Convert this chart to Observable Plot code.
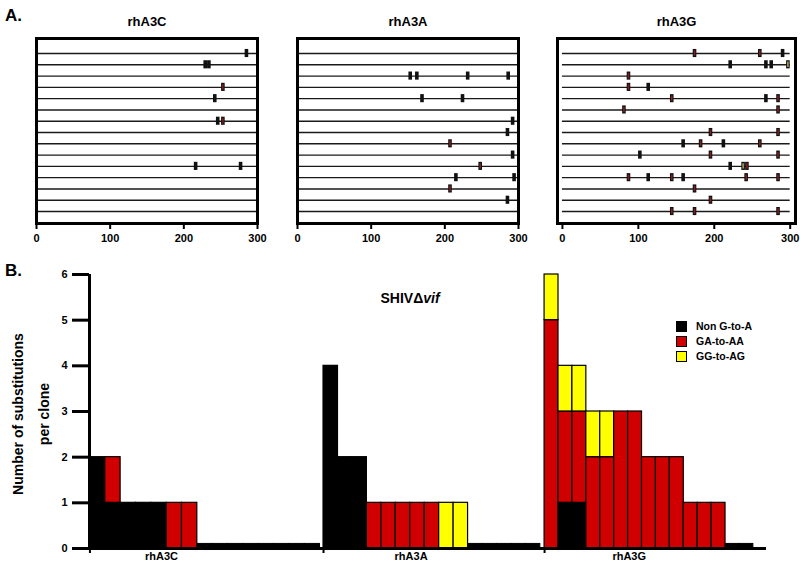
<!DOCTYPE html>
<html><head><meta charset="utf-8">
<script src="https://cdn.jsdelivr.net/npm/d3@7"></script>
<script src="https://cdn.jsdelivr.net/npm/@observablehq/plot@0.6"></script>
<style>
body{margin:0;background:#fff;font-family:"Liberation Sans",Arial,sans-serif;}
#root{position:relative;width:800px;height:567px;overflow:hidden;background:#fff;}
.abs{position:absolute;white-space:nowrap;color:#000;font-weight:bold;}
.abs svg{overflow:visible;}
</style></head><body><div id="root"></div>
<script>
// ---------- Panel A data ----------
const clonesA = d3.range(1, 16);          // 15 sequenced clones per enzyme
const seqRange = [0, 300];                // sequenced region (nt)
const axisTicksA = [0, 100, 200, 300];
const mutTypes = ["Non G-to-A", "GA-to-AA", "GG-to-AG"];
// [clone, position, type index]
const mutA3C = [[1,285,0],[2,229,0],[2,234,0],[4,253,1],[5,242,0],[7,246,0],[7,253,1],[11,216,0],[11,277,0]];
const mutA3A = [[3,153,0],[3,162,0],[3,231,0],[3,286,0],[5,169,0],[5,224,0],[7,292,0],[8,285,0],[9,207,1],
                [10,292,0],[11,248,1],[12,215,0],[12,294,0],[13,207,1],[14,285,0]];
const mutA3G = [[1,174,1],[1,260,1],[1,290,0],[2,221,0],[2,268,0],[2,275,0],[2,297,2],[3,87,1],[4,87,1],[4,113,0],
                [5,144,1],[5,268,0],[5,284,1],[6,81,1],[6,284,1],[8,195,1],[8,284,1],
                [9,159,0],[9,182,1],[9,212,0],[9,260,1],[10,102,0],[10,195,1],[10,284,1],
                [11,221,0],[11,238,2],[11,243,1],[12,87,1],[12,113,0],[12,144,1],[12,159,0],[12,242,1],[12,284,1],
                [13,174,1],[14,195,1],[15,144,1],[15,174,1],[15,284,1]];

// ---------- Panel B data (substitutions per clone) ----------
const groupsB = ["rhA3C", "rhA3A", "rhA3G"];
const yTicksB = [0, 1, 2, 3, 4, 5, 6];
const rhA3C_non = [2,1,1,1,1,0,0,0,0,0,0,0,0,0,0];
const rhA3C_ga  = [0,1,0,0,0,1,1,0,0,0,0,0,0,0,0];
const rhA3C_gg  = [0,0,0,0,0,0,0,0,0,0,0,0,0,0,0];
const rhA3A_non = [4,2,2,0,0,0,0,0,0,0,0,0,0,0,0];
const rhA3A_ga  = [0,0,0,1,1,1,1,1,0,0,0,0,0,0,0];
const rhA3A_gg  = [0,0,0,0,0,0,0,0,1,1,0,0,0,0,0];
const rhA3G_non = [0,1,1,0,0,0,0,0,0,0,0,0,0,0,0];
const rhA3G_ga  = [5,2,2,2,2,3,3,2,2,2,1,1,1,0,0];
const rhA3G_gg  = [1,1,1,1,1,0,0,0,0,0,0,0,0,0,0];

// ---------- styling / layout ----------
const FONT = "'Liberation Sans', Arial, sans-serif";
const colorsA = ["#111111", "#7e1f1f", "#a89f55"];
const colorsB = ["#000000", "#d00000", "#ffff00"];
const root = document.getElementById("root");
function place(el, left, top) {
  const d = document.createElement("div");
  d.className = "abs"; d.style.left = left + "px"; d.style.top = top + "px";
  d.appendChild(el); root.appendChild(d); return d;
}
function label(html, left, top, size, extra) {
  const d = document.createElement("div");
  d.className = "abs"; d.style.left = left + "px"; d.style.top = top + "px";
  d.style.fontSize = size + "px"; d.innerHTML = html;
  if (extra) Object.assign(d.style, extra);
  root.appendChild(d); return d;
}

// ---------- Panel A ----------
function panelA(title, muts, cfg) {
  const coloured = muts.filter(d => d[2] > 0);
  return Plot.plot({
    width: cfg.w, height: 255,
    marginLeft: cfg.ml, marginRight: cfg.mr, marginTop: 38, marginBottom: 32,
    style: {fontFamily: FONT, background: "transparent", color: "#000"},
    x: {domain: cfg.xd, axis: null},
    y: {domain: [16.06, -0.33], axis: null},
    marks: [
      Plot.ruleY(clonesA, {y: d => d, x1: seqRange[0], x2: seqRange[1], stroke: "#1a1a1a", strokeWidth: 1.4}),
      Plot.ruleX(muts, {x: d => d[1], y1: d => d[0] - 0.36, y2: d => d[0] + 0.36, stroke: "#111", strokeWidth: 3.6}),
      Plot.ruleX(coloured, {x: d => d[1], y1: d => d[0] - 0.24, y2: d => d[0] + 0.24, stroke: d => colorsA[d[2]], strokeWidth: 1.6}),
      Plot.frame({stroke: "#000", strokeWidth: 3}),
      Plot.axisX({ticks: axisTicksA, tickSize: 6, tickPadding: 5, strokeWidth: 2, fontSize: 11, fontWeight: "bold", tickFormat: d => d, label: null}),
      Plot.text([title], {text: d => d, frameAnchor: "top", dy: -22, fontSize: 13, fontWeight: "bold"})
    ]
  });
}
place(panelA("rhA3C", mutA3C, {w: 268, ml: 36, mr: 11, xd: [0, 300]}), 0, 0);
place(panelA("rhA3A", mutA3A, {w: 262, ml: 27, mr: 14, xd: [0, 300]}), 270, 0);
place(panelA("rhA3G", mutA3G, {w: 265, ml: 22, mr: 5, xd: [-6.5, 307]}), 535, 0);
label("A.", 5, 6, 17);

// ---------- Panel B ----------
const groupSpan = {rhA3C: [0.03, 15.8], rhA3A: [16.04, 30.9], rhA3G: [31.19, 45.5]};
const labelAt = {rhA3C: 4.9, rhA3A: 6.0, rhA3G: 5.8};
const seriesB = {
  rhA3C: [rhA3C_non, rhA3C_ga, rhA3C_gg],
  rhA3A: [rhA3A_non, rhA3A_ga, rhA3A_gg],
  rhA3G: [rhA3G_non, rhA3G_ga, rhA3G_gg]
};
const barRows = [], zeroRows = [];
for (const g of groupsB) {
  const [s0, s1] = groupSpan[g];
  const n = seriesB[g][0].length, w = (s1 - s0) / n;
  for (let i = 0; i < n; i++) {
    const x1 = s0 + i * w, x2 = x1 + w;
    let base = 0;
    seriesB[g].forEach((arr, t) => {
      if (arr[i] > 0) { barRows.push({x1, x2, y1: base, y2: base + arr[i], type: mutTypes[t]}); base += arr[i]; }
    });
    if (base === 0) zeroRows.push({x1, x2});
  }
}
const plotB = Plot.plot({
  width: 800, height: 309,
  marginLeft: 89, marginRight: 34, marginTop: 16, marginBottom: 19,
  style: {fontFamily: FONT, background: "transparent", color: "#000"},
  x: {domain: [0, 46.4], axis: null},
  y: {domain: [0, 6], axis: null},
  color: {domain: mutTypes, range: colorsB},
  marks: [
    Plot.rect(zeroRows, {x1: "x1", x2: "x2", y1: 0, y2: 0.1, fill: "#000", stroke: "#000", strokeWidth: 1}),
    Plot.rect(barRows, {x1: "x1", x2: "x2", y1: "y1", y2: "y2", fill: "type", stroke: "#000", strokeWidth: 1.2}),
    Plot.ruleY([0], {stroke: "#000", strokeWidth: 3}),
    Plot.ruleX([0], {y1: 0, y2: 6, stroke: "#000", strokeWidth: 3}),
    Plot.axisY({ticks: yTicksB, tickSize: 17, tickPadding: 5, strokeWidth: 3, fontSize: 11, fontWeight: "bold", tickFormat: d => d, label: null}),
    Plot.axisX({ticks: groupsB.map(g => groupSpan[g][0]), tickSize: 5, strokeWidth: 2, tickFormat: () => "", label: null}),
    Plot.text(groupsB, {text: d => d, x: g => groupSpan[g][0] + labelAt[g], frameAnchor: "bottom", dy: 11, fontSize: 11, fontWeight: "bold"})
  ]
});
place(plotB, 0, 258);
label("B.", 5, 261, 17);
label("SHIV&Delta;<i>vif</i>", 410, 290, 14, {transform: "translateX(-50%)"});

// y-axis title (two lines, rotated)
[["Number of substitutions", 18], ["per clone", 44]].forEach(([t, cx]) => {
  label(t, cx - 110, 414 - 9, 14, {width: "220px", height: "18px", lineHeight: "18px", textAlign: "center", transform: "rotate(-90deg)"});
});

// legend
mutTypes.forEach((t, i) => {
  const y = 326 + i * 15;
  label("", 676, y - 5, 10, {width: "9px", height: "9px", background: colorsB[i], border: "1px solid #000"});
  label(t, 696, y - 7, 10.5, {lineHeight: "14px"});
});
</script></body></html>
